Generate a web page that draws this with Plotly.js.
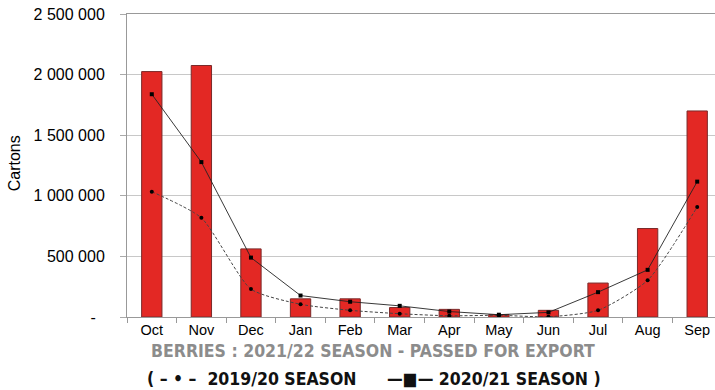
<!DOCTYPE html>
<html><head><meta charset="utf-8">
<script src="https://cdn.plot.ly/plotly-3.0.1.min.js"></script>
<style>html,body{margin:0;padding:0;overflow:hidden;background:#fff}</style>
</head><body><div id="chart" style="width:722px;height:390px"></div>
<script>
const months = ['Oct','Nov','Dec','Jan','Feb','Mar','Apr','May','Jun','Jul','Aug','Sep'];
const season2122 = [2025000, 2075000, 562000, 150000, 150000, 78000, 63000, 20000, 55000, 280000, 730000, 1700000];
const season1920 = [1034000, 818000, 230000, 105000, 55000, 27000, 10000, 14000, 2000, 55000, 303000, 908000];
const season2021 = [1838000, 1278000, 490000, 177000, 126000, 92000, 45000, 19000, 38000, 205000, 389000, 1117000];
const yTickVals = [0, 500000, 1000000, 1500000, 2000000, 2500000];
const yTickText = ['-\u00a0\u00a0', '500 000', '1 000 000', '1 500 000', '2 000 000', '2 500 000'];

const L = 127, W = 595, T = 13.5, H = 303.5;
const px = v => (v - L) / W;
const py = v => (T + H - v) / H;

const traces = [
  {type:'bar', x:months, y:season2122, name:'2021/22 SEASON', width:0.41,
   marker:{color:'#e32824', line:{color:'#7a2a2a', width:1}}},
  {type:'scatter', mode:'lines+markers', x:months, y:season1920, name:'2019/20 SEASON',
   line:{color:'#444', width:1, dash:'3px,2px', shape:'spline', smoothing:0.6},
   marker:{symbol:'circle', size:4, color:'#000'}},
  {type:'scatter', mode:'lines+markers', x:months, y:season2021, name:'2020/21 SEASON',
   line:{color:'#222', width:0.9},
   marker:{symbol:'square', size:4, color:'#000'}}
];

const condensed = 'Liberation Sans Narrow, DejaVu Sans Condensed, Arial Narrow, sans-serif';
const layout = {
  width:722, height:390,
  margin:{l:L, r:0, t:T, b:390 - T - H},
  paper_bgcolor:'#fff', plot_bgcolor:'#fff',
  showlegend:false,
  font:{family:'Liberation Sans, Arial, sans-serif', size:15, color:'#000'},
  xaxis:{type:'category', range:[-0.5, 11.5], automargin:false, tickson:'boundaries', ticks:'outside', ticklen:5, tickcolor:'#999',
    showline:true, linecolor:'#999', linewidth:1, mirror:true, showgrid:false,
    tickfont:{size:14.5, color:'#000'}, fixedrange:true},
  yaxis:{range:[0,2500000], automargin:false, tickvals:yTickVals, ticktext:yTickText, ticks:'outside', ticklen:6,
    tickcolor:'#aaa', showline:true, linecolor:'#999', linewidth:1,
    gridcolor:'#c8c8c8', gridwidth:1, zeroline:false, ticklabelstandoff:12,
    tickfont:{size:16, color:'#000'}},
  annotations:[
    {xref:'paper', yref:'paper', x:px(14), y:py(163), xanchor:'center', yanchor:'middle', textangle:-90,
     showarrow:false, text:'Cartons', font:{size:16, color:'#000'}},
    {xref:'paper', yref:'paper', x:px(373), y:py(351), xanchor:'center', yanchor:'middle',
     showarrow:false, text:'<b>BERRIES : 2021/22 SEASON - PASSED FOR EXPORT</b>',
     font:{family:condensed, size:17.5, color:'#8c8c8c'}},
    {xref:'paper', yref:'paper', x:px(145), y:py(379), xanchor:'left', yanchor:'middle',
     showarrow:false, text:'<b>( – • –  2019/20 SEASON</b>',
     font:{family:condensed, size:17.5, color:'#111'}},
    {xref:'paper', yref:'paper', x:px(603), y:py(379), xanchor:'right', yanchor:'middle',
     showarrow:false, text:'<b>—■— 2020/21 SEASON )</b>',
     font:{family:condensed, size:17.5, color:'#111'}}
  ]
};
Plotly.newPlot('chart', traces, layout, {displayModeBar:false, staticPlot:true});
</script>
</body></html>
